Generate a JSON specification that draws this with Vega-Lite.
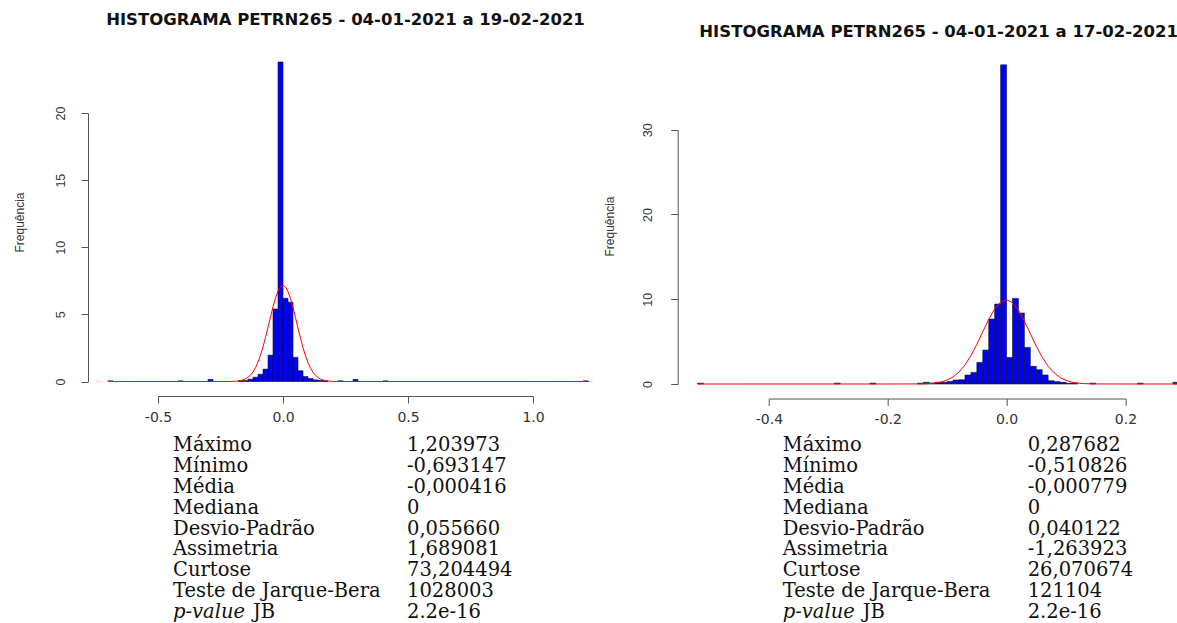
{
  "$schema": "https://vega.github.io/schema/vega-lite/v6.json",
  "padding": {"left": 13, "top": 12, "right": 0, "bottom": 0},
  "background": "white",
  "columns": 2,
  "bounds": "flush",
  "spacing": {"column": 88.7, "row": 36},
  "config": {
    "view": {"stroke": null},
    "axis": {"grid": false, "domainColor": "#555", "tickColor": "#555", "labelColor": "#333", "titleColor": "#333", "tickSize": 7, "labelFlush": false, "labelOverlap": false}
  },
  "datasets": {
    "binsL": [
      {"x0": -0.70, "x1": -0.68, "density": 0.05},
      {"x0": -0.42, "x1": -0.40, "density": 0.05},
      {"x0": -0.30, "x1": -0.28, "density": 0.15},
      {"x0": -0.18, "x1": -0.16, "density": 0.05},
      {"x0": -0.16, "x1": -0.14, "density": 0.08},
      {"x0": -0.14, "x1": -0.12, "density": 0.17},
      {"x0": -0.12, "x1": -0.10, "density": 0.32},
      {"x0": -0.10, "x1": -0.08, "density": 0.54},
      {"x0": -0.08, "x1": -0.06, "density": 0.92},
      {"x0": -0.06, "x1": -0.04, "density": 1.96},
      {"x0": -0.04, "x1": -0.02, "density": 5.4},
      {"x0": -0.02, "x1": 0.0, "density": 23.8},
      {"x0": 0.0, "x1": 0.02, "density": 6.2},
      {"x0": 0.02, "x1": 0.04, "density": 5.9},
      {"x0": 0.04, "x1": 0.06, "density": 1.8},
      {"x0": 0.06, "x1": 0.08, "density": 0.8},
      {"x0": 0.08, "x1": 0.10, "density": 0.37},
      {"x0": 0.10, "x1": 0.12, "density": 0.22},
      {"x0": 0.12, "x1": 0.14, "density": 0.12},
      {"x0": 0.14, "x1": 0.16, "density": 0.08},
      {"x0": 0.16, "x1": 0.18, "density": 0.05},
      {"x0": 0.22, "x1": 0.24, "density": 0.05},
      {"x0": 0.28, "x1": 0.30, "density": 0.15},
      {"x0": 0.40, "x1": 0.42, "density": 0.05},
      {"x0": 1.20, "x1": 1.22, "density": 0.05}
    ],
    "curveL": [
      {"x": -0.70, "density": 0}, {"x": -0.25, "density": 0.0001}, {"x": -0.20, "density": 0.0116},
      {"x": -0.19, "density": 0.0217}, {"x": -0.18, "density": 0.0394}, {"x": -0.17, "density": 0.0691},
      {"x": -0.16, "density": 0.1176}, {"x": -0.15, "density": 0.1937}, {"x": -0.14, "density": 0.3088},
      {"x": -0.13, "density": 0.4769}, {"x": -0.12, "density": 0.7129}, {"x": -0.11, "density": 1.0318},
      {"x": -0.10, "density": 1.4462}, {"x": -0.09, "density": 1.9627}, {"x": -0.08, "density": 2.5789},
      {"x": -0.07, "density": 3.2807}, {"x": -0.06, "density": 4.0412}, {"x": -0.05, "density": 4.8201},
      {"x": -0.04, "density": 5.5658}, {"x": -0.03, "density": 6.2231}, {"x": -0.02, "density": 6.7372},
      {"x": -0.01, "density": 7.0619}, {"x": 0.0, "density": 7.1672}, {"x": 0.01, "density": 7.043},
      {"x": 0.02, "density": 6.7011}, {"x": 0.03, "density": 6.1733}, {"x": 0.04, "density": 5.5067},
      {"x": 0.05, "density": 4.7556}, {"x": 0.06, "density": 3.9768}, {"x": 0.07, "density": 3.2196},
      {"x": 0.08, "density": 2.5241}, {"x": 0.09, "density": 1.9159}, {"x": 0.10, "density": 1.408},
      {"x": 0.11, "density": 1.0019}, {"x": 0.12, "density": 0.6902}, {"x": 0.13, "density": 0.4605},
      {"x": 0.14, "density": 0.2974}, {"x": 0.15, "density": 0.186}, {"x": 0.16, "density": 0.1127},
      {"x": 0.17, "density": 0.0661}, {"x": 0.18, "density": 0.0375}, {"x": 0.19, "density": 0.0206},
      {"x": 0.20, "density": 0.011}, {"x": 0.25, "density": 0.0001}, {"x": 1.224, "density": 0}
    ],
    "binsR": [
      {"x0": -0.52, "x1": -0.51, "density": 0.1},
      {"x0": -0.29, "x1": -0.28, "density": 0.1},
      {"x0": -0.23, "x1": -0.22, "density": 0.1},
      {"x0": -0.15, "x1": -0.14, "density": 0.1},
      {"x0": -0.14, "x1": -0.13, "density": 0.2},
      {"x0": -0.13, "x1": -0.12, "density": 0.1},
      {"x0": -0.12, "x1": -0.11, "density": 0.2},
      {"x0": -0.11, "x1": -0.10, "density": 0.2},
      {"x0": -0.10, "x1": -0.09, "density": 0.3},
      {"x0": -0.09, "x1": -0.08, "density": 0.47},
      {"x0": -0.08, "x1": -0.07, "density": 0.5},
      {"x0": -0.07, "x1": -0.06, "density": 1.06},
      {"x0": -0.06, "x1": -0.05, "density": 1.37},
      {"x0": -0.05, "x1": -0.04, "density": 2.55},
      {"x0": -0.04, "x1": -0.03, "density": 4.0},
      {"x0": -0.03, "x1": -0.02, "density": 7.66},
      {"x0": -0.02, "x1": -0.01, "density": 9.43},
      {"x0": -0.01, "x1": 0.0, "density": 37.65},
      {"x0": 0.0, "x1": 0.01, "density": 3.14},
      {"x0": 0.01, "x1": 0.02, "density": 10.1},
      {"x0": 0.02, "x1": 0.03, "density": 8.37},
      {"x0": 0.03, "x1": 0.04, "density": 4.32},
      {"x0": 0.04, "x1": 0.05, "density": 2.08},
      {"x0": 0.05, "x1": 0.06, "density": 1.69},
      {"x0": 0.06, "x1": 0.07, "density": 1.06},
      {"x0": 0.07, "x1": 0.08, "density": 0.39},
      {"x0": 0.08, "x1": 0.09, "density": 0.28},
      {"x0": 0.09, "x1": 0.10, "density": 0.2},
      {"x0": 0.10, "x1": 0.11, "density": 0.1},
      {"x0": 0.11, "x1": 0.12, "density": 0.1},
      {"x0": 0.14, "x1": 0.15, "density": 0.1},
      {"x0": 0.22, "x1": 0.23, "density": 0.1},
      {"x0": 0.28, "x1": 0.29, "density": 0.2}
    ],
    "curveR": [
      {"x": -0.52, "density": 0}, {"x": -0.20, "density": 0.0001}, {"x": -0.15, "density": 0.0099},
      {"x": -0.14, "density": 0.0242}, {"x": -0.13, "density": 0.0556}, {"x": -0.12, "density": 0.1203},
      {"x": -0.11, "density": 0.2446}, {"x": -0.10, "density": 0.4672}, {"x": -0.09, "density": 0.8389},
      {"x": -0.08, "density": 1.4154}, {"x": -0.07, "density": 2.2448}, {"x": -0.06, "density": 3.3455},
      {"x": -0.05, "density": 4.6851}, {"x": -0.04, "density": 6.1663}, {"x": -0.03, "density": 7.6264},
      {"x": -0.02, "density": 8.8652}, {"x": -0.01, "density": 9.6841}, {"x": 0.0, "density": 9.9413},
      {"x": 0.01, "density": 9.5907}, {"x": 0.02, "density": 8.6953}, {"x": 0.03, "density": 7.4082},
      {"x": 0.04, "density": 5.9322}, {"x": 0.05, "density": 4.4638}, {"x": 0.06, "density": 3.1566},
      {"x": 0.07, "density": 2.0978}, {"x": 0.08, "density": 1.3103}, {"x": 0.09, "density": 0.7687},
      {"x": 0.10, "density": 0.4242}, {"x": 0.11, "density": 0.2199}, {"x": 0.12, "density": 0.1071},
      {"x": 0.13, "density": 0.049}, {"x": 0.14, "density": 0.0211}, {"x": 0.15, "density": 0.0085},
      {"x": 0.20, "density": 0.0001}, {"x": 0.40, "density": 0}
    ],
    "statsL": [
      {"stat": "Máximo", "value": "1,203973"},
      {"stat": "Mínimo", "value": "-0,693147"},
      {"stat": "Média", "value": "-0,000416"},
      {"stat": "Mediana", "value": "0"},
      {"stat": "Desvio-Padrão", "value": "0,055660"},
      {"stat": "Assimetria", "value": "1,689081"},
      {"stat": "Curtose", "value": "73,204494"},
      {"stat": "Teste de Jarque-Bera", "value": "1028003"},
      {"stat": "p-value", "suffix": "JB", "value": "2.2e-16"}
    ],
    "statsR": [
      {"stat": "Máximo", "value": "0,287682"},
      {"stat": "Mínimo", "value": "-0,510826"},
      {"stat": "Média", "value": "-0,000779"},
      {"stat": "Mediana", "value": "0"},
      {"stat": "Desvio-Padrão", "value": "0,040122"},
      {"stat": "Assimetria", "value": "-1,263923"},
      {"stat": "Curtose", "value": "26,070674"},
      {"stat": "Teste de Jarque-Bera", "value": "121104"},
      {"stat": "p-value", "suffix": "JB", "value": "2.2e-16"}
    ]
  },
  "concat": [
    {
      "width": 501,
      "height": 335,
      "title": {"text": "HISTOGRAMA PETRN265 - 04-01-2021 a 19-02-2021", "font": "DejaVu Sans", "fontWeight": "bold", "fontSize": 16.5, "color": "#111", "anchor": "middle", "frame": "group", "dx": 7, "offset": 19.5, "baseline": "alphabetic"},
      "layer": [
        {
          "data": {"name": "binsL"},
          "mark": {"type": "rect", "fill": "#0000FF", "stroke": "#111", "strokeWidth": 0.6},
          "encoding": {
            "x": {"field": "x0", "type": "quantitative", "scale": {"domain": [-0.5, 1.0], "range": [70, 445], "nice": false, "zero": false},
              "axis": {"values": [-0.5, 0, 0.5, 1.0], "format": ".1f", "labelExpr": "replace(datum.label, '−', '-')", "title": null, "labelFont": "DejaVu Sans", "labelFontSize": 14, "labelPadding": 7}},
            "x2": {"field": "x1"},
            "y": {"field": "density", "type": "quantitative", "scale": {"domain": [0, 20], "range": [320.5, 52], "nice": false, "zero": false},
              "axis": {"values": [0, 5, 10, 15, 20], "labelAngle": -90, "labelAlign": "center", "labelBaseline": "bottom", "labelPadding": 14, "labelFont": "Liberation Sans", "labelFontSize": 12.5,
                "title": "Frequência", "titleFont": "Liberation Sans", "titleFontSize": 12, "titleFontWeight": "normal", "titleAngle": -90, "titleAlign": "center", "titleBaseline": "bottom", "titleX": -62, "titleY": 161}},
            "y2": {"datum": 0}
          }
        },
        {
          "data": {"name": "curveL"},
          "mark": {"type": "line", "color": "#FF0000", "strokeWidth": 1},
          "encoding": {
            "x": {"field": "x", "type": "quantitative"},
            "y": {"field": "density", "type": "quantitative"}
          }
        }
      ]
    },
    {
      "width": 500.3,
      "height": 337.5,
      "title": {"text": "HISTOGRAMA PETRN265 - 04-01-2021 a 17-02-2021", "font": "DejaVu Sans", "fontWeight": "bold", "fontSize": 16.5, "color": "#111", "anchor": "end", "frame": "group", "offset": 7.5, "baseline": "alphabetic"},
      "layer": [
        {
          "data": {"name": "binsR"},
          "mark": {"type": "rect", "fill": "#0000FF", "stroke": "#111", "strokeWidth": 0.6, "clip": true},
          "encoding": {
            "x": {"field": "x0", "type": "quantitative", "scale": {"domain": [-0.4, 0.2], "range": [91.2, 447.7], "nice": false, "zero": false},
              "axis": {"values": [-0.4, -0.2, 0, 0.2], "format": ".1f", "labelExpr": "replace(datum.label, '−', '-')", "title": null, "labelFont": "DejaVu Sans", "labelFontSize": 14, "labelPadding": 7}},
            "x2": {"field": "x1"},
            "y": {"field": "density", "type": "quantitative", "scale": {"domain": [0, 30], "range": [323, 68.7], "nice": false, "zero": false},
              "axis": {"values": [0, 10, 20, 30], "labelAngle": -90, "labelAlign": "center", "labelBaseline": "bottom", "labelPadding": 16, "labelFont": "Liberation Sans", "labelFontSize": 12.5,
                "title": "Frequência", "titleFont": "Liberation Sans", "titleFontSize": 12, "titleFontWeight": "normal", "titleAngle": -90, "titleAlign": "center", "titleBaseline": "bottom", "titleX": -61.7, "titleY": 165}},
            "y2": {"datum": 0}
          }
        },
        {
          "data": {"name": "curveR"},
          "mark": {"type": "line", "color": "#FF0000", "strokeWidth": 1, "clip": true},
          "encoding": {
            "x": {"field": "x", "type": "quantitative"},
            "y": {"field": "density", "type": "quantitative"}
          }
        }
      ]
    },
    {
      "width": 501,
      "height": 187.2,
      "data": {"name": "statsL"},
      "encoding": {
        "y": {"field": "stat", "type": "nominal", "sort": null, "axis": null,
          "scale": {"type": "point", "padding": 0.5, "domain": ["Máximo", "Mínimo", "Média", "Mediana", "Desvio-Padrão", "Assimetria", "Curtose", "Teste de Jarque-Bera", "p-value"]}}
      },
      "layer": [
        {
          "transform": [{"filter": "!datum.suffix"}],
          "mark": {"type": "text", "align": "left", "baseline": "middle", "font": "DejaVu Serif", "fontSize": 19.5, "color": "#111"},
          "encoding": {
            "x": {"datum": "label", "type": "nominal", "scale": {"type": "point", "padding": 0, "domain": ["label", "value"], "range": [85, 319]}, "axis": null},
            "text": {"field": "stat"}
          }
        },
        {
          "transform": [{"filter": "datum.suffix"}],
          "mark": {"type": "text", "align": "left", "baseline": "middle", "font": "DejaVu Serif", "fontSize": 19.5, "fontStyle": "italic", "color": "#111"},
          "encoding": {
            "x": {"datum": "label", "type": "nominal"},
            "text": {"field": "stat"}
          }
        },
        {
          "transform": [{"filter": "datum.suffix"}],
          "mark": {"type": "text", "align": "left", "baseline": "middle", "font": "DejaVu Serif", "fontSize": 19.5, "dx": 80, "color": "#111"},
          "encoding": {
            "x": {"datum": "label", "type": "nominal"},
            "text": {"field": "suffix"}
          }
        },
        {
          "mark": {"type": "text", "align": "left", "baseline": "middle", "font": "DejaVu Serif", "fontSize": 19.5, "color": "#111"},
          "encoding": {
            "x": {"datum": "value", "type": "nominal"},
            "text": {"field": "value"}
          }
        }
      ]
    },
    {
      "width": 500.3,
      "height": 187.2,
      "data": {"name": "statsR"},
      "encoding": {
        "y": {"field": "stat", "type": "nominal", "sort": null, "axis": null,
          "scale": {"type": "point", "padding": 0.5, "domain": ["Máximo", "Mínimo", "Média", "Mediana", "Desvio-Padrão", "Assimetria", "Curtose", "Teste de Jarque-Bera", "p-value"]}}
      },
      "layer": [
        {
          "transform": [{"filter": "!datum.suffix"}],
          "mark": {"type": "text", "align": "left", "baseline": "middle", "font": "DejaVu Serif", "fontSize": 19.5, "color": "#111"},
          "encoding": {
            "x": {"datum": "label", "type": "nominal", "scale": {"type": "point", "padding": 0, "domain": ["label", "value"], "range": [105, 350]}, "axis": null},
            "text": {"field": "stat"}
          }
        },
        {
          "transform": [{"filter": "datum.suffix"}],
          "mark": {"type": "text", "align": "left", "baseline": "middle", "font": "DejaVu Serif", "fontSize": 19.5, "fontStyle": "italic", "color": "#111"},
          "encoding": {
            "x": {"datum": "label", "type": "nominal"},
            "text": {"field": "stat"}
          }
        },
        {
          "transform": [{"filter": "datum.suffix"}],
          "mark": {"type": "text", "align": "left", "baseline": "middle", "font": "DejaVu Serif", "fontSize": 19.5, "dx": 80, "color": "#111"},
          "encoding": {
            "x": {"datum": "label", "type": "nominal"},
            "text": {"field": "suffix"}
          }
        },
        {
          "mark": {"type": "text", "align": "left", "baseline": "middle", "font": "DejaVu Serif", "fontSize": 19.5, "color": "#111"},
          "encoding": {
            "x": {"datum": "value", "type": "nominal"},
            "text": {"field": "value"}
          }
        }
      ]
    }
  ]
}
